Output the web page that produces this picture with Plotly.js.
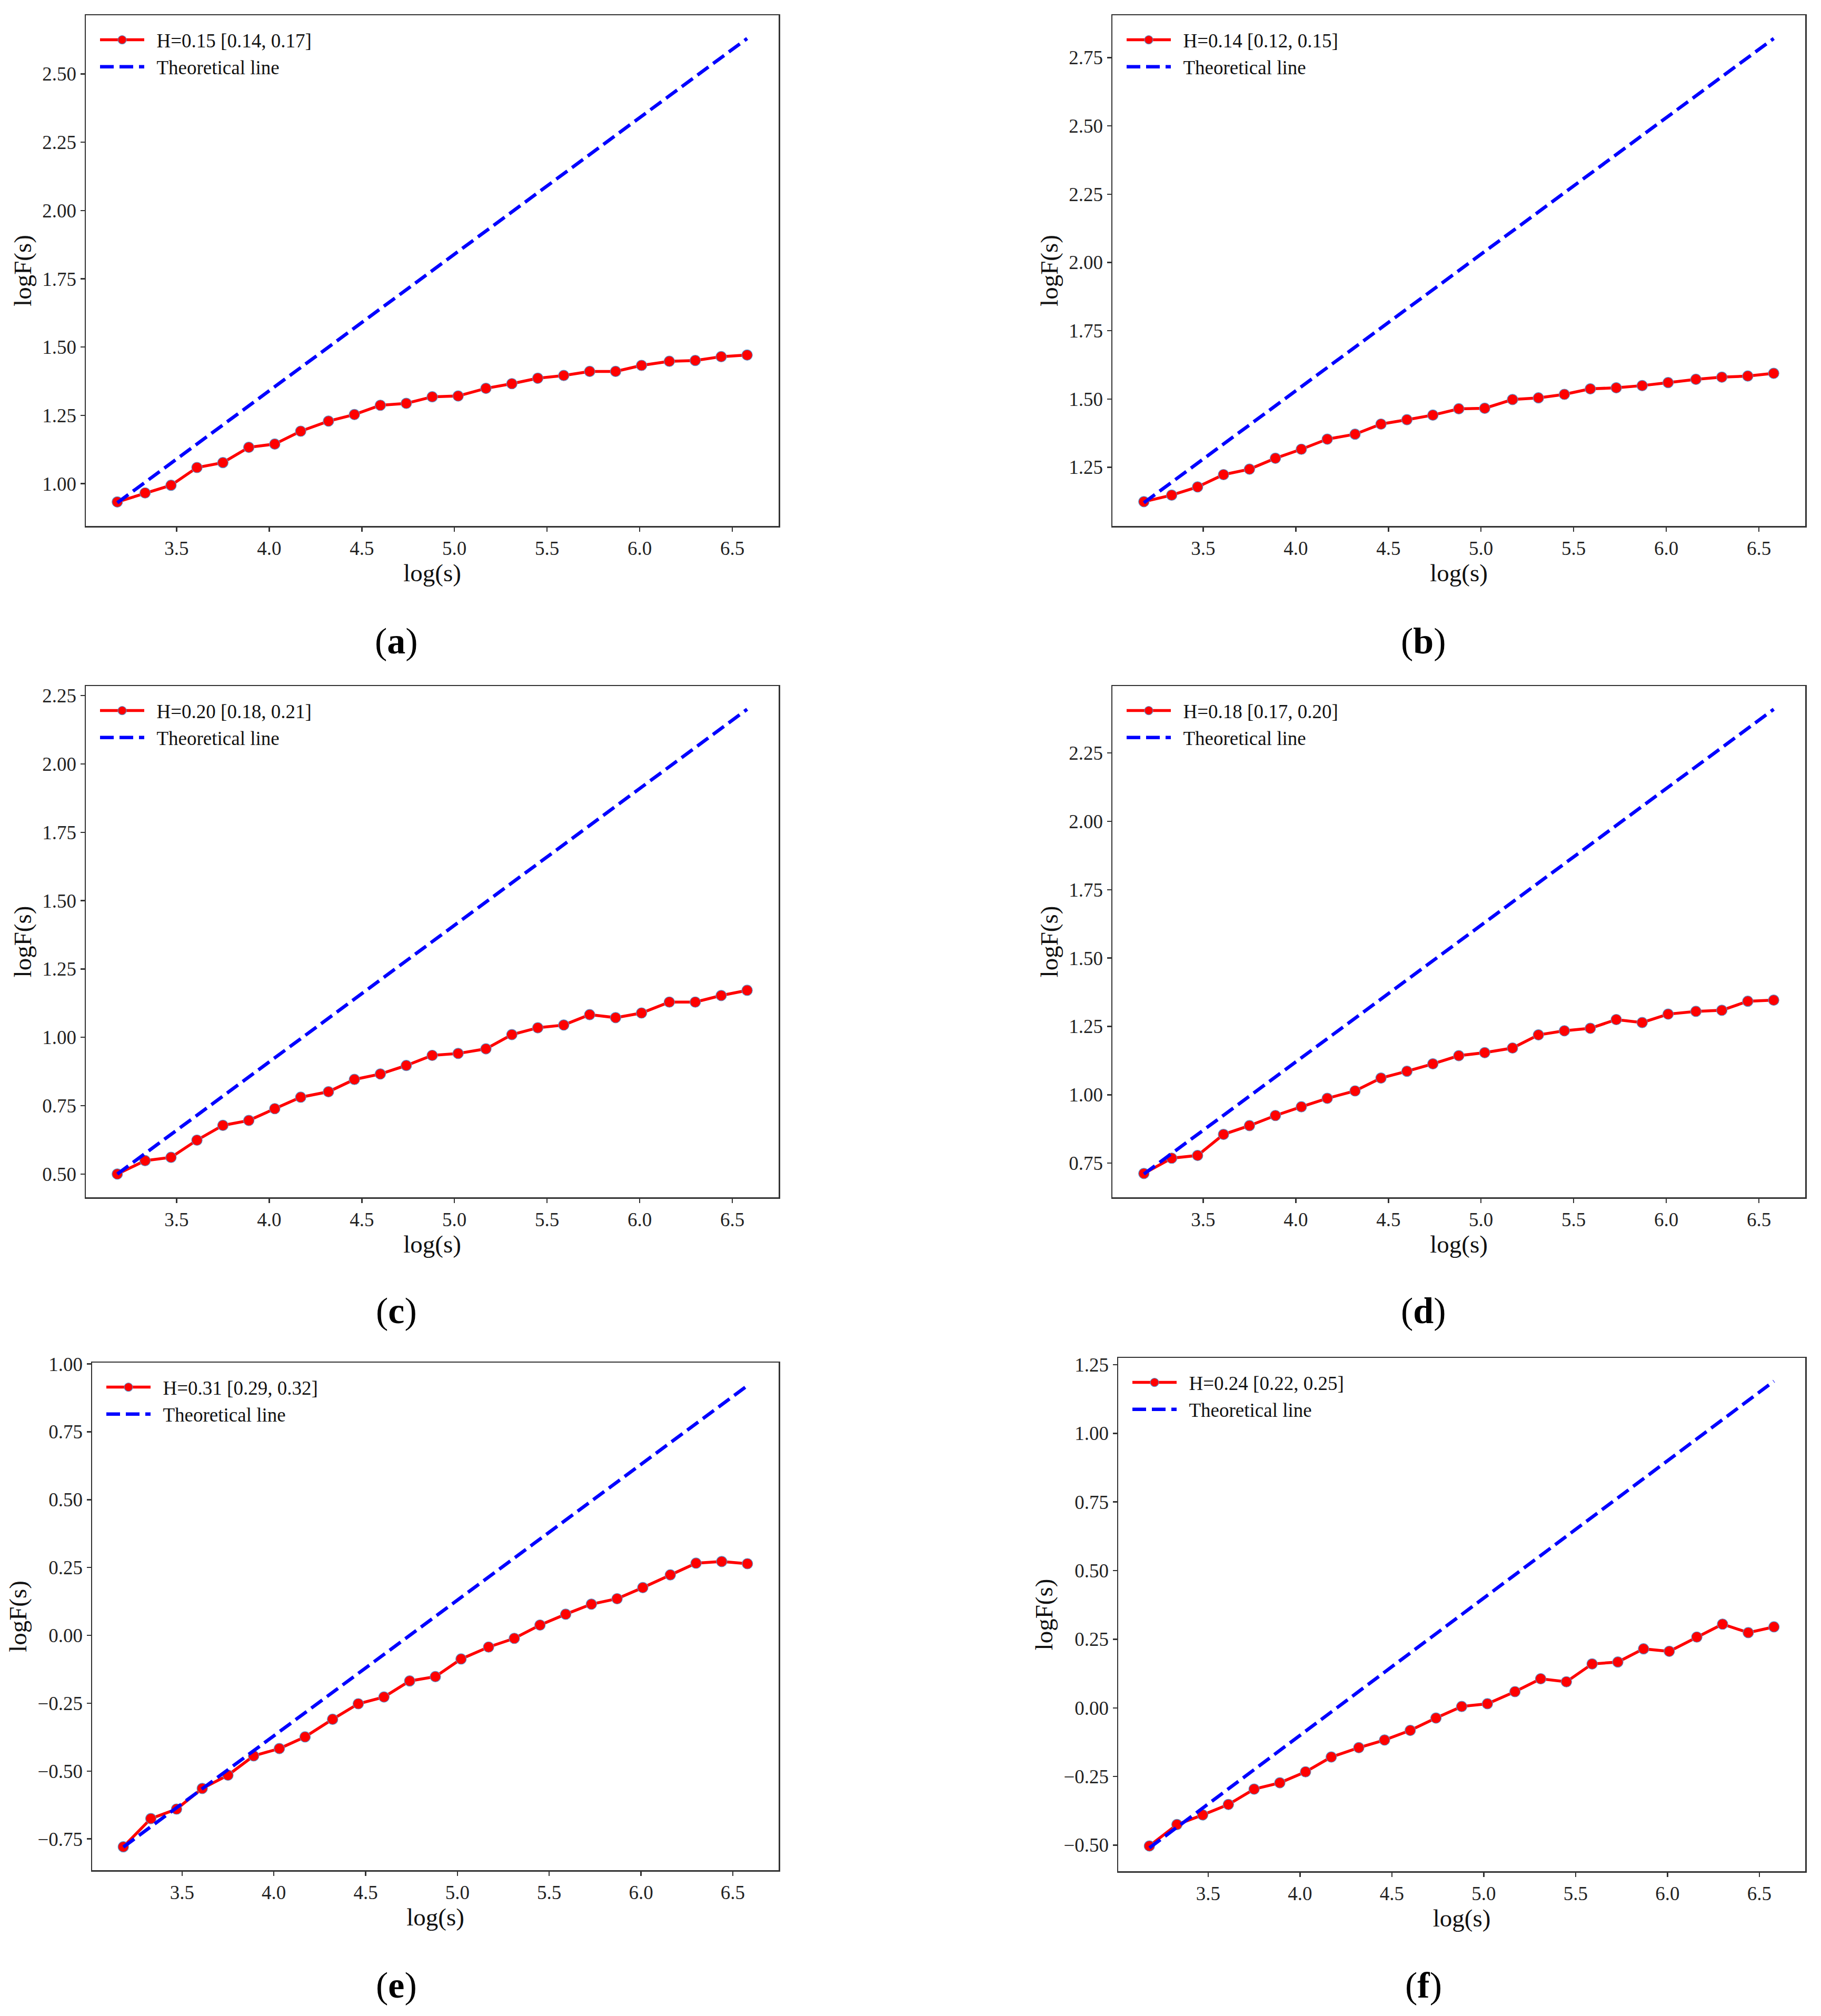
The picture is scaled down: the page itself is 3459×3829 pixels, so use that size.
<!DOCTYPE html>
<html>
<head>
<meta charset="utf-8">
<script src="https://cdn.plot.ly/plotly-3.0.1.min.js"></script>
<style>
  html, body { margin: 0; padding: 0; background: #fff; }
  #chart { width: 3459px; height: 3829px; }
</style>
</head>
<body>
<div id="chart"></div>
<script>
// log(s) positions shared by every panel
const logS = [3.18, 3.33, 3.47, 3.61, 3.75, 3.89, 4.03, 4.17, 4.32, 4.46, 4.60, 4.74, 4.88,
              5.02, 5.17, 5.31, 5.45, 5.59, 5.73, 5.87, 6.01, 6.16, 6.30, 6.44, 6.58];

// logF(s)
const fA = [0.933, 0.966, 0.994, 1.059, 1.077, 1.133, 1.145, 1.192, 1.229, 1.253, 1.287, 1.294, 1.318,
            1.321, 1.349, 1.366, 1.386, 1.396, 1.411, 1.411, 1.433, 1.448, 1.451, 1.465, 1.471];
const fB = [1.124, 1.148, 1.178, 1.223, 1.243, 1.283, 1.316, 1.353, 1.371, 1.408, 1.424, 1.441, 1.464,
            1.466, 1.498, 1.504, 1.517, 1.537, 1.541, 1.549, 1.560, 1.572, 1.580, 1.584, 1.594];
const fC = [0.500, 0.549, 0.561, 0.624, 0.678, 0.696, 0.739, 0.781, 0.801, 0.846, 0.866, 0.897, 0.934,
            0.941, 0.958, 1.010, 1.035, 1.045, 1.083, 1.072, 1.089, 1.129, 1.129, 1.153, 1.172];
const fD = [0.712, 0.768, 0.778, 0.855, 0.887, 0.924, 0.956, 0.987, 1.014, 1.061, 1.086, 1.113, 1.143,
            1.154, 1.171, 1.219, 1.234, 1.243, 1.275, 1.264, 1.295, 1.305, 1.309, 1.342, 1.346];
const fE = [-0.779, -0.675, -0.640, -0.564, -0.515, -0.444, -0.417, -0.374, -0.309, -0.252, -0.227, -0.168, -0.152,
            -0.087, -0.043, -0.011, 0.038, 0.078, 0.115, 0.135, 0.176, 0.223, 0.266, 0.272, 0.264];
const fF = [-0.503, -0.425, -0.390, -0.352, -0.296, -0.273, -0.233, -0.179, -0.145, -0.117, -0.082, -0.037, 0.005,
            0.015, 0.059, 0.106, 0.095, 0.160, 0.167, 0.215, 0.206, 0.258, 0.305, 0.274, 0.295];

// theoretical line (slope 0.5) end points
const theoX = [3.18, 6.58];
const theoA = [0.93, 2.63];
const theoB = [1.12, 2.82];
const theoC = [0.50, 2.20];
const theoD = [0.71, 2.41];
const theoE = [-0.78, 0.92];
const theoF = [-0.51, 1.19];

const hLabels = ['H=0.15 [0.14, 0.17]', 'H=0.14 [0.12, 0.15]', 'H=0.20 [0.18, 0.21]',
                 'H=0.18 [0.17, 0.20]', 'H=0.31 [0.29, 0.32]', 'H=0.24 [0.22, 0.25]'];
const panelTags = ['a', 'b', 'c', 'd', 'e', 'f'];

const series = [fA, fB, fC, fD, fE, fF];
const theory = [theoA, theoB, theoC, theoD, theoE, theoF];

// axes boxes in pixels: [left, right, top, bottom]
const W = 3459, H = 3829;
const boxes = [
    [163, 1479, 29, 999],
    [2113, 3429, 29, 999],
    [163, 1479, 1303, 2274],
    [2113, 3429, 1303, 2274],
    [175, 1479, 2588, 3552],
    [2124, 3429, 2579, 3554]
];
const tagPos = [[753, 1217], [2704, 1217], [753, 2489], [2704, 2489], [753, 3770], [2704, 3770]];

const FONT = 'Liberation Serif, Times New Roman, serif';
const axisColor = '#333333';
const GAP = '\u2002';   // small gap between legend symbol and text

function padRange(lo, hi) {
    const m = (hi - lo) * 0.05;
    return [lo - m, hi + m];
}

const data = [];
const layout = {
    width: W,
    height: H,
    margin: { l: 0, r: 0, t: 0, b: 0 },
    paper_bgcolor: '#ffffff',
    plot_bgcolor: '#ffffff',
    font: { family: FONT, size: 36, color: '#000000' },
    showlegend: true,
    annotations: []
};

series.forEach((ys, i) => {
    const n = i + 1;
    const sfx = n === 1 ? '' : String(n);
    const legendId = 'legend' + sfx;
    const [l, r, t, b] = boxes[i];
    const th = theory[i];

    data.push({
        type: 'scatter',
        mode: 'lines+markers',
        x: logS,
        y: ys,
        name: GAP + hLabels[i],
        xaxis: 'x' + sfx,
        yaxis: 'y' + sfx,
        legend: legendId,
        line: { color: '#ff0000', width: 5.5 },
        marker: { color: '#ff0000', size: 20, line: { color: '#5b8fc7', width: 1.2 } }
    });
    data.push({
        type: 'scatter',
        mode: 'lines',
        x: theoX,
        y: th,
        name: GAP + 'Theoretical line',
        xaxis: 'x' + sfx,
        yaxis: 'y' + sfx,
        legend: legendId,
        line: { color: '#0000ff', width: 6.5, dash: '26px,11px' }
    });

    const yLo = Math.min(...ys, ...th);
    const yHi = Math.max(...ys, ...th);

    layout['xaxis' + sfx] = {
        domain: [l / W, r / W],
        anchor: 'y' + sfx,
        range: padRange(logS[0], logS[logS.length - 1]),
        tickmode: 'linear', tick0: 3.5, dtick: 0.5, tickformat: '.1f',
        ticks: 'outside', ticklen: 8, tickwidth: 2.5, tickcolor: axisColor,
        showgrid: false, zeroline: false,
        showline: true, mirror: true, linecolor: axisColor, linewidth: 2.5,
        tickfont: { family: FONT, size: 37, color: '#222' },
        title: { text: 'log(s)', font: { family: FONT, size: 47, color: '#111' }, standoff: 0 },
        fixedrange: true
    };
    layout['yaxis' + sfx] = {
        domain: [1 - b / H, 1 - t / H],
        anchor: 'x' + sfx,
        range: padRange(yLo, yHi),
        tickmode: 'linear', tick0: 0, dtick: 0.25, tickformat: '.2f',
        ticks: 'outside', ticklen: 8, tickwidth: 2.5, tickcolor: axisColor,
        showgrid: false, zeroline: false,
        showline: true, mirror: true, linecolor: axisColor, linewidth: 2.5,
        tickfont: { family: FONT, size: 37, color: '#222' },
        title: { text: 'logF(s)', font: { family: FONT, size: 47, color: '#111' }, standoff: 6 },
        fixedrange: true
    };
    layout[legendId] = {
        x: (l + 22) / W,
        y: 1 - (t + 16) / H,
        xanchor: 'left',
        yanchor: 'top',
        bgcolor: 'rgba(0,0,0,0)',
        borderwidth: 0,
        itemwidth: 84,
        tracegroupgap: 4,
        font: { family: FONT, size: 37, color: '#111' }
    };
    layout.annotations.push({
        xref: 'paper', yref: 'paper',
        x: tagPos[i][0] / W, y: 1 - tagPos[i][1] / H,
        xanchor: 'center', yanchor: 'middle',
        text: '(<b>' + panelTags[i] + '</b>)',
        showarrow: false,
        font: { family: FONT, size: 70, color: '#000' }
    });
});

Plotly.newPlot('chart', data, layout, { displayModeBar: false, staticPlot: true });
</script>
</body>
</html>
